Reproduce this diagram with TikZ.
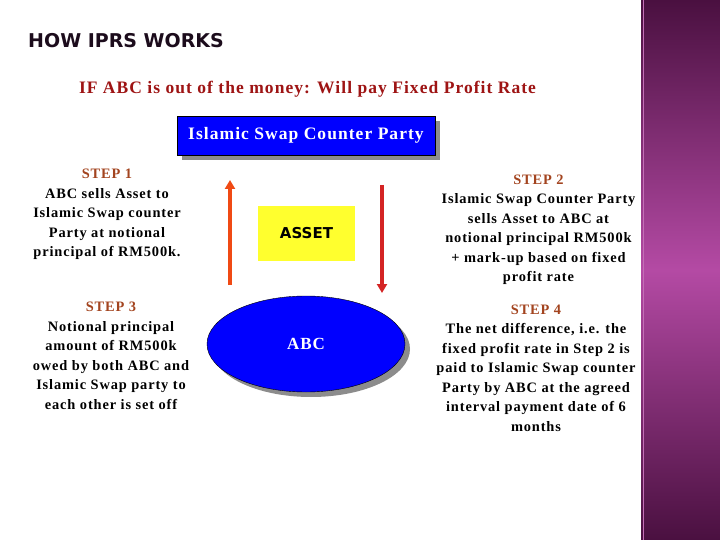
\documentclass[tikz,border=0pt]{standalone}
\usepackage{fontspec}
\setmainfont[LetterSpace=6]{Liberation Serif}
\newfontfamily\titlefont{DejaVu Sans}
\usetikzlibrary{arrows.meta,shadows,shapes.geometric}

\definecolor{titleink}{HTML}{1C0C1C}
\definecolor{rulered}{HTML}{9E1414}
\definecolor{steprust}{HTML}{A3441F}
\definecolor{partyblue}{HTML}{0000FF}
\definecolor{assetyellow}{HTML}{FFFF2E}
\definecolor{upred}{HTML}{F04A14}
\definecolor{downred}{HTML}{D42424}
\definecolor{barouter}{HTML}{4A1040}
\definecolor{barinner}{HTML}{B44AA4}

\tikzset{
  steptext/.style={align=center, font=\bfseries\fontsize{14.4}{19.5}\selectfont, inner sep=0pt},
  boxshadow/.style={drop shadow={shadow xshift=5pt, shadow yshift=-5pt, fill=black!45, opacity=1}},
  flow/.style={line width=4pt, -{Triangle[width=10pt,length=9pt]}}
}
\newcommand{\stepname}[1]{\textcolor{steprust}{#1}}

\begin{document}
\begin{tikzpicture}[x=1pt, y=-1pt]
  \useasboundingbox (0,0) rectangle (720,540);
  \fill[white] (0,0) rectangle (720,540);

  % Side bar
  \shade[top color=barouter, bottom color=barouter, middle color=barinner] (641,0) rectangle (720,540);
  \draw[barinner!80!white, line width=0.6pt] (643,0) -- (643,540);

  % Headings
  \node[font=\titlefont\bfseries\fontsize{19}{24}\selectfont, text=titleink, anchor=west, inner sep=0pt] (title) at (28,41) {HOW IPRS WORKS};
  \node[font=\bfseries\fontsize{17.5}{20}\selectfont, text=rulered, inner sep=0pt] (rule) at (307.5,89) {IF ABC is out of the money: Will pay Fixed Profit Rate};

  % Counter party and ABC
  \node[draw=black, fill=partyblue, boxshadow, minimum width=258pt, minimum height=39pt,
        text=white, font=\bfseries\fontsize{17.5}{20}\selectfont] (party) at (306,135.5) {Islamic Swap Counter Party};
  \node[ellipse, draw=black, fill=partyblue, boxshadow, minimum width=198pt, minimum height=96pt,
        text=white, font=\bfseries\fontsize{17}{20}\selectfont] (abc) at (306,344) {ABC};
  \node[fill=assetyellow, minimum width=97pt, minimum height=55pt,
        font=\titlefont\bfseries\fontsize{15}{18}\selectfont] (asset) at (306.5,233.5) {ASSET};

  % Asset flows
  \coordinate (upfoot) at (230,285);
  \coordinate (uphead) at (230,180);
  \coordinate (downfoot) at (382,185);
  \coordinate (downhead) at (382,293);
  \draw[flow, upred] (upfoot) -- (uphead);
  \draw[flow, downred] (downfoot) -- (downhead);

  % Steps
  \node[steptext] (s1) at (107,214.5)
    {\stepname{STEP 1}\\ABC sells Asset to\\Islamic Swap counter\\Party at notional\\principal of RM500k.};
  \node[steptext] (s2) at (538.5,230)
    {\stepname{STEP 2}\\Islamic Swap Counter Party\\sells Asset to ABC at\\notional principal RM500k\\+ mark-up based on fixed\\profit rate};
  \node[steptext] (s3) at (111,356)
    {\stepname{STEP 3}\\Notional principal\\amount of RM500k\\owed by both ABC and\\Islamic Swap party to\\each other is set off};
  \node[steptext] (s4) at (536,368)
    {\stepname{STEP 4}\\The net difference, i.e. the\\fixed profit rate in Step 2 is\\paid to Islamic Swap counter\\Party by ABC at the agreed\\interval payment date of 6\\months};
\end{tikzpicture}
\end{document}
